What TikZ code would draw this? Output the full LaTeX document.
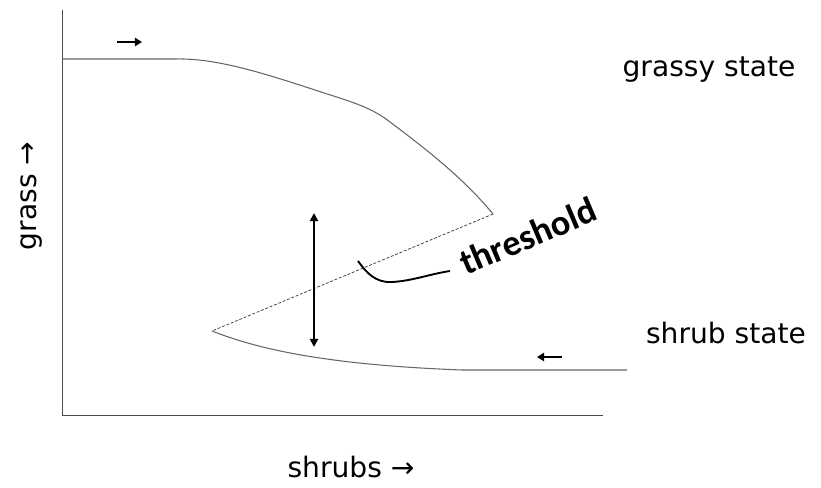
\documentclass[tikz,border=0pt]{standalone}
\usepackage{fontspec}
\setmainfont{DejaVu Sans}
\newfontfamily\threshfont{Carlito}
\usetikzlibrary{arrows.meta}
\begin{document}
\begin{tikzpicture}[x=0.03cm,y=-0.03cm,
  curve/.style={draw=black!60,line width=0.9pt},
  dashline/.style={draw=black!80,line width=0.6pt,dash pattern=on 2.5pt off 1.5pt},
  axis/.style={draw=black!70,line width=0.7pt},
  bigarrow/.style={draw=black,line width=1.6pt,{Triangle[length=7pt,width=7pt]}-{Triangle[length=7pt,width=7pt]}},
  smallarrow/.style={draw=black,line width=1.8pt,-{Triangle[length=6pt,width=7pt]}},
  lbl/.style={font=\fontsize{24}{28}\selectfont,inner sep=0pt}]
\useasboundingbox (0,0) rectangle (821,488);
% axes
\coordinate (ytop) at (62,10);
\coordinate (origin) at (62,415);
\coordinate (xend) at (603,415);
\draw[axis] (ytop) -- (origin) -- (xend);
% key points
\coordinate (gstart) at (62,59);
\coordinate (fold1) at (493,214);
\coordinate (fold2) at (212,331);
\coordinate (send) at (627,370);
% upper curve
\draw[curve] (gstart) -- (175,59) .. controls (215,58) and (260,72) .. (315,90)
  .. controls (345,100) and (370,106) .. (390,122)
  .. controls (430,152) and (465,180) .. (fold1);
% dashed threshold
\draw[dashline] (fold1) -- (fold2);
% lower curve
\draw[curve] (fold2) .. controls (260,350) and (330,365) .. (462,370) -- (send);
% vertical double arrow
\coordinate (va) at (314,213);
\coordinate (vb) at (314,347);
\draw[bigarrow] (va) -- (vb);
% small direction arrows
\coordinate (ra) at (117,42);
\coordinate (rb) at (142,42);
\draw[smallarrow] (ra) -- (rb);
\coordinate (la) at (562,357);
\coordinate (lb) at (537,357);
\draw[smallarrow] (la) -- (lb);
% threshold label
\node[rotate=23,inner sep=0pt,font=\threshfont\bfseries\fontsize{31}{36}\selectfont] (thr) at (528,236) {threshold};
\coordinate (lead) at (358,261);
\draw[line width=1.6pt] (lead) .. controls (366,272) and (375,283) .. (392,282) .. controls (412,281) and (430,274) .. (450,271);
% labels
\node[lbl] (grassy) at (709,70) {grassy state};
\node[lbl] (shrub) at (726,333) {shrub state};
\node[lbl] (xlab) at (351,467) {shrubs →};
\node[lbl,rotate=90] (ylab) at (32,196) {grass →};
\end{tikzpicture}
\end{document}
